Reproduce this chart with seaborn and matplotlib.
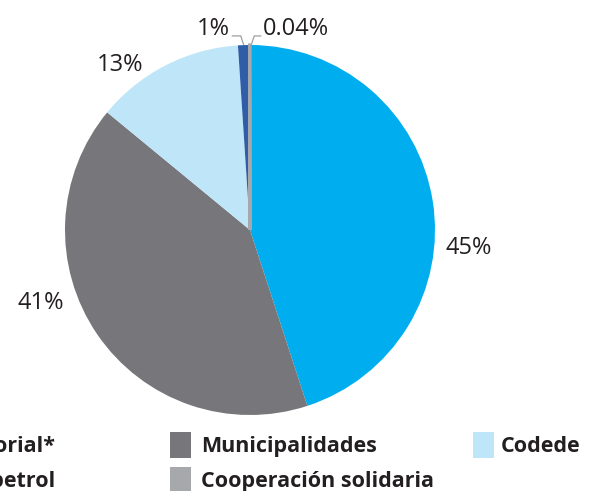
import matplotlib
matplotlib.use("Agg")
import matplotlib.pyplot as plt
from matplotlib.patches import Rectangle
import numpy as np
import seaborn as sns

# Funding sources and their share of the total (%)
categories = ["Sectorial*", "Municipalidades", "Codede", "Fonpetrol", "Cooperación solidaria"]
shares = [45, 41, 13, 1, 0.04]
pct_labels = ["45%", "41%", "13%", "1%", "0.04%"]
colors = ["#00AEEF", "#77777B", "#BEE6F8", "#2F5DA8", "#A7A8AB"]

sns.set_theme(style="white")
plt.rcParams["font.family"] = ["Open Sans", "DejaVu Sans"]

W, H = 589, 491
fig = plt.figure(figsize=(W / 100, H / 100), dpi=100)

# pie axes: centre (250, 230) px, radius 185 px
cx, cy, r = 250, 230, 185
ax = fig.add_axes([(cx - r) / W, (H - cy - r) / H, 2 * r / W, 2 * r / H])
wedges, _ = ax.pie(shares, colors=colors, startangle=90, counterclock=False,
                   radius=1, wedgeprops=dict(linewidth=0))
# give the hairline slice an outline in its own colour so it stays visible
wedges[4].set_edgecolor(colors[4])
wedges[4].set_linewidth(2.2)
ax.set_xlim(-1, 1)
ax.set_ylim(-1, 1)
ax.set_aspect("equal")
ax.axis("off")

ink = "#231F20"
txt_kw = dict(fontsize=17, color=ink, clip_on=False, va="baseline")

# labels for the large slices (x centre, baseline)
label_pos = {0: (1.184, -0.130), 1: (-1.130, -0.427), 2: (-0.700, 0.859)}
for i, (x, y) in label_pos.items():
    ax.text(x, y, pct_labels[i], ha="center", **txt_kw)

# leader lines for the two thin slices at the top
def edge_point(w):
    a = np.deg2rad((w.theta1 + w.theta2) / 2)
    return np.cos(a), np.sin(a)

line_kw = dict(color="#9D9FA2", lw=0.9, clip_on=False, solid_capstyle="butt")
ex, ey = edge_point(wedges[3])
ax.plot([ex, ex - 0.016, ex - 0.065], [ey, 1.049, 1.049], **line_kw)
ax.text(ex - 0.075, 1.054, pct_labels[3], ha="right", **txt_kw)

ex, ey = edge_point(wedges[4])
ax.plot([ex + 0.008, ex + 0.024, ex + 0.063], [ey, 1.049, 1.049], **line_kw)
ax.text(ex + 0.073, 1.054, pct_labels[4], ha="left", **txt_kw)

# legend drawn in figure pixels, three columns
def fx(px):
    return px / W

def fy(py):
    return 1 - py / H

sq_w, sq_h = 21, 26
rows_top = [432, 467]
rows_base = [452, 487]
legend_size = 15.5
# (category index, row, square left, text left)
legend_slots = [(0, 0, None, None), (1, 0, 170, 201), (2, 0, 473, 501),
                (3, 1, None, None), (4, 1, 170, 201)]
for idx, row, sx, tx in legend_slots:
    if sx is None:
        # first column sits past the left edge; only the end of its text shows
        fig.text(fx(55), fy(rows_base[row]), categories[idx], ha="right",
                 va="baseline", fontsize=legend_size, fontweight="bold", color=ink)
        continue
    fig.add_artist(Rectangle((fx(sx), fy(rows_top[row] + sq_h)), fx(sq_w), sq_h / H,
                             transform=fig.transFigure, facecolor=colors[idx],
                             edgecolor="none"))
    fig.text(fx(tx), fy(rows_base[row]), categories[idx], ha="left", va="baseline",
             fontsize=legend_size, fontweight="bold", color=ink)

fig.savefig("out.png", dpi=100, facecolor="white")
